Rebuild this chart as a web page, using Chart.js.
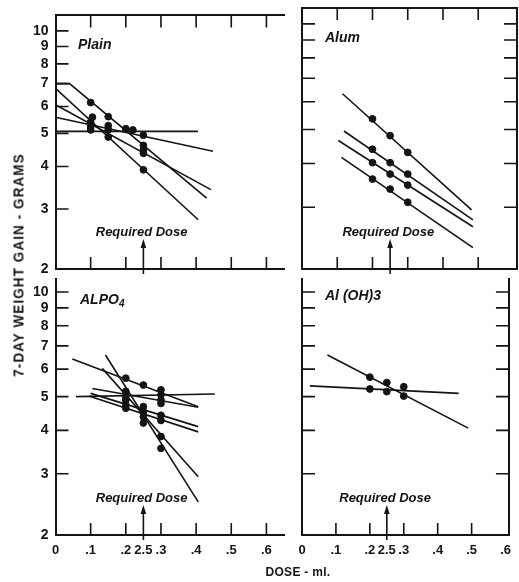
<!DOCTYPE html>
<html>
<head>
<meta charset="utf-8">
<script src="https://cdn.jsdelivr.net/npm/chart.js@4.4.1/dist/chart.umd.min.js"></script>
<style>
  body { margin: 0; background: #fff; }
  #wrap { position: relative; width: 519px; height: 582px; overflow: hidden; }
  #wrap canvas { position: absolute; left: 0; top: 0; }
  .lbl { position: absolute; font-family: "Liberation Sans", Arial, sans-serif; font-weight: bold; color: #141414; white-space: nowrap; }
  #yTitle { left: 18px; top: 265px; font-size: 15px; letter-spacing: 1.2px; transform: translate(-50%, -50%) rotate(-90deg) scale(0.9, 1); }
  #xTitle { left: 298px; top: 572px; font-size: 12px; letter-spacing: 0.3px; transform: translate(-50%, -50%); }
</style>
</head>
<body>
<div id="wrap">
  <canvas id="plain" width="519" height="582"></canvas>
  <canvas id="alum" width="519" height="582"></canvas>
  <canvas id="alpo4" width="519" height="582"></canvas>
  <canvas id="aloh" width="519" height="582"></canvas>
  <div class="lbl" id="yTitle">7-DAY WEIGHT GAIN - GRAMS</div>
  <div class="lbl" id="xTitle">DOSE - ml.</div>
</div>
<script>
// axes
const xTicks = [0, 0.1, 0.2, 0.25, 0.3, 0.4, 0.5, 0.6];
const xTickLabels = ['0', '.1', '.2', '2.5', '.3', '.4', '.5', '.6'];
const xMarks = [0.1, 0.2, 0.3, 0.4, 0.5, 0.6];
const xMarksRight = [0.1, 0.2, 0.3, 0.4, 0.5];
const yTicks = [2, 3, 4, 5, 6, 7, 8, 9, 10];
const yMarks = [3, 4, 5, 6, 7, 8, 9, 10];
const requiredDose = 0.25;

// Plain
const plainLines = [
  [[0, 7.0], [0.04, 7.0], [0.43, 3.23]],
  [[0, 6.78], [0.406, 2.79]],
  [[0, 6.07], [0.442, 3.42]],
  [[0, 5.58], [0.448, 4.43]],
  [[0, 5.07], [0.405, 5.07]]
];
const plainPoints = [
  [0.1, 6.16], [0.105, 5.58], [0.1, 5.40], [0.1, 5.23], [0.1, 5.12],
  [0.15, 5.60], [0.15, 5.27], [0.15, 5.12], [0.15, 4.88],
  [0.2, 5.16], [0.22, 5.12],
  [0.25, 4.94], [0.25, 4.61], [0.25, 4.46], [0.25, 4.37], [0.25, 3.91]
];

// Alum
const alumLines = [
  [[0.115, 6.32], [0.481, 2.95]],
  [[0.119, 4.95], [0.485, 2.76]],
  [[0.103, 4.65], [0.485, 2.64]],
  [[0.112, 4.16], [0.485, 2.30]]
];
const alumPoints = [
  [0.2, 5.36], [0.25, 4.80], [0.3, 4.30],
  [0.2, 4.39], [0.25, 4.02], [0.3, 3.73],
  [0.2, 4.02], [0.25, 3.73], [0.3, 3.47],
  [0.2, 3.61], [0.25, 3.38], [0.3, 3.10]
];

// AlPO4
const alpo4Lines = [
  [[0.048, 6.42], [0.406, 4.68]],
  [[0.133, 6.03], [0.406, 2.94]],
  [[0.142, 6.59], [0.406, 2.49]],
  [[0.058, 5.0], [0.453, 5.09]],
  [[0.105, 5.28], [0.406, 4.66]],
  [[0.1, 5.11], [0.406, 4.10]],
  [[0.095, 5.02], [0.406, 3.96]]
];
const alpo4Points = [
  [0.2, 5.65], [0.2, 5.18], [0.2, 5.0], [0.2, 4.89], [0.2, 4.74], [0.2, 4.63],
  [0.25, 5.40], [0.25, 4.68], [0.25, 4.52], [0.25, 4.38], [0.25, 4.20],
  [0.3, 5.23], [0.3, 5.06], [0.3, 4.89], [0.3, 4.78], [0.3, 4.42], [0.3, 4.27], [0.3, 3.84], [0.3, 3.55]
];

// Al(OH)3
const alohLines = [
  [[0.075, 6.59], [0.49, 4.06]],
  [[0.023, 5.37], [0.462, 5.11]]
];
const alohPoints = [
  [0.2, 5.69], [0.25, 5.49], [0.3, 5.02],
  [0.2, 5.26], [0.25, 5.17], [0.3, 5.34]
];

const W = 519, H = 582;
const ink = '#141414';
const font = '"Liberation Sans", Arial, sans-serif';

// inward tick marks, panel name, required dose arrow
const decor = {
  id: 'decor',
  afterDraw(chart, args, o) {
    const { ctx, chartArea: a } = chart;
    const xs = chart.scales.x, ys = chart.scales.y;
    ctx.save();
    ctx.strokeStyle = ink;
    ctx.fillStyle = ink;
    ctx.lineWidth = 1.6;
    ctx.beginPath();
    o.xMarks.forEach(v => {
      const px = xs.getPixelForValue(v);
      ctx.moveTo(px, a.bottom); ctx.lineTo(px, a.bottom - 12);
      if (o.top) { ctx.moveTo(px, a.top); ctx.lineTo(px, a.top + 12); }
    });
    yMarks.forEach(v => {
      const py = ys.getPixelForValue(v);
      ctx.moveTo(a.left, py); ctx.lineTo(a.left + 13, py);
      if (o.right) { ctx.moveTo(a.right, py); ctx.lineTo(a.right - 13, py); }
    });
    // arrow
    const dx = xs.getPixelForValue(requiredDose);
    ctx.moveTo(dx, a.bottom + 5); ctx.lineTo(dx, a.bottom - 24);
    ctx.stroke();
    ctx.beginPath();
    ctx.moveTo(dx, a.bottom - 30);
    ctx.lineTo(dx - 2.8, a.bottom - 21);
    ctx.lineTo(dx + 2.8, a.bottom - 21);
    ctx.closePath();
    ctx.fill();

    ctx.font = 'italic bold 13px ' + font;
    ctx.textAlign = 'center';
    ctx.textBaseline = 'alphabetic';
    ctx.fillText('Required Dose', xs.getPixelForValue(0.245), a.bottom - 33);

    ctx.textAlign = 'left';
    ctx.font = 'italic bold 14px ' + font;
    const nx = a.left + o.nameDx, ny = a.top + o.nameDy;
    ctx.fillText(o.name, nx, ny);
    if (o.sub) {
      const w = ctx.measureText(o.name).width;
      ctx.font = 'italic bold 10px ' + font;
      ctx.fillText(o.sub, nx + w, ny + 3);
    }
    ctx.restore();
  }
};

function linear(extra) {
  return Object.assign({
    type: 'linear',
    grid: { drawOnChartArea: false, drawTicks: false },
    border: { display: true, color: ink, width: 2 }
  }, extra);
}

function makePanel(id, p) {
  const [left, top, right, bottom] = p.area;
  const datasets = p.lines.map(line => ({
    data: line.map(([x, y]) => ({ x, y })),
    borderColor: ink,
    borderWidth: 1.6,
    pointRadius: 0,
    fill: false,
    tension: 0
  }));
  datasets.push({
    type: 'scatter',
    data: p.points.map(([x, y]) => ({ x, y })),
    showLine: false,
    pointRadius: 3.4,
    pointBorderWidth: 1,
    pointBackgroundColor: ink,
    pointBorderColor: ink
  });

  // scale boxes are sized so that the chart area lands on the panel frame
  const scales = {
    x: linear({
      position: 'bottom', min: 0, max: p.xMax,
      afterBuildTicks: s => { s.ticks = xTicks.map(v => ({ value: v })); },
      afterFit: s => { s.height = H - bottom; },
      ticks: {
        display: p.xLabels, autoSkip: false, maxRotation: 0, padding: 8, color: ink,
        font: { family: font, size: 13, weight: 'bold' },
        callback: v => xTickLabels[xTicks.indexOf(v)]
      }
    }),
    y: linear({
      type: 'logarithmic', position: 'left', min: 2, max: p.yMax,
      afterBuildTicks: s => { s.ticks = yTicks.map(v => ({ value: v })); },
      afterFit: s => { s.width = left; },
      ticks: {
        display: p.yLabels, autoSkip: false, padding: 7, color: ink,
        font: { family: font, size: 14, weight: 'bold' },
        callback: v => String(v)
      }
    })
  };
  if (p.top) {
    scales.xTop = linear({
      axis: 'x', position: 'top', min: 0, max: p.xMax,
      afterFit: s => { s.height = top; },
      ticks: { display: false }
    });
  }
  if (p.right) {
    scales.yRight = linear({
      axis: 'y', type: 'logarithmic', position: 'right', min: 2, max: p.yMax,
      afterFit: s => { s.width = W - right; },
      ticks: { display: false }
    });
  }

  return new Chart(document.getElementById(id), {
    type: 'line',
    data: { datasets },
    options: {
      responsive: false,
      animation: false,
      events: [],
      layout: {
        autoPadding: false,
        padding: { left: 0, bottom: 0, top: p.top ? 0 : top, right: p.right ? 0 : W - right }
      },
      plugins: {
        legend: { display: false },
        tooltip: { enabled: false },
        decor: {
          name: p.name, sub: p.sub || '', nameDx: p.nameAt[0], nameDy: p.nameAt[1],
          xMarks: p.xMarks, top: !!p.top, right: !!p.right
        }
      },
      scales
    },
    plugins: [decor]
  });
}

makePanel('plain', {
  area: [55.5, 8, 284, 269], xMax: 0.65, yMax: 11.1,
  lines: plainLines, points: plainPoints, name: 'Plain', nameAt: [22.5, 34],
  xMarks: xMarks, xLabels: false, yLabels: true, top: true, right: false
});
makePanel('alum', {
  area: [302, 8, 517, 269], xMax: 0.61, yMax: 11.1,
  lines: alumLines, points: alumPoints, name: 'Alum', nameAt: [23, 34],
  xMarks: xMarksRight, xLabels: false, yLabels: false, top: true, right: true
});
makePanel('alpo4', {
  area: [55.5, 279, 284, 535], xMax: 0.65, yMax: 10.9,
  lines: alpo4Lines, points: alpo4Points, name: 'ALPO', sub: '4', nameAt: [24.5, 25],
  xMarks: xMarks, xLabels: true, yLabels: true, top: false, right: false
});
makePanel('aloh', {
  area: [302, 279, 517, 535], xMax: 0.61, yMax: 10.9,
  lines: alohLines, points: alohPoints, name: 'Al (OH)3', nameAt: [23, 21],
  xMarks: xMarksRight, xLabels: true, yLabels: false, top: false, right: true
});
</script>
</body>
</html>
